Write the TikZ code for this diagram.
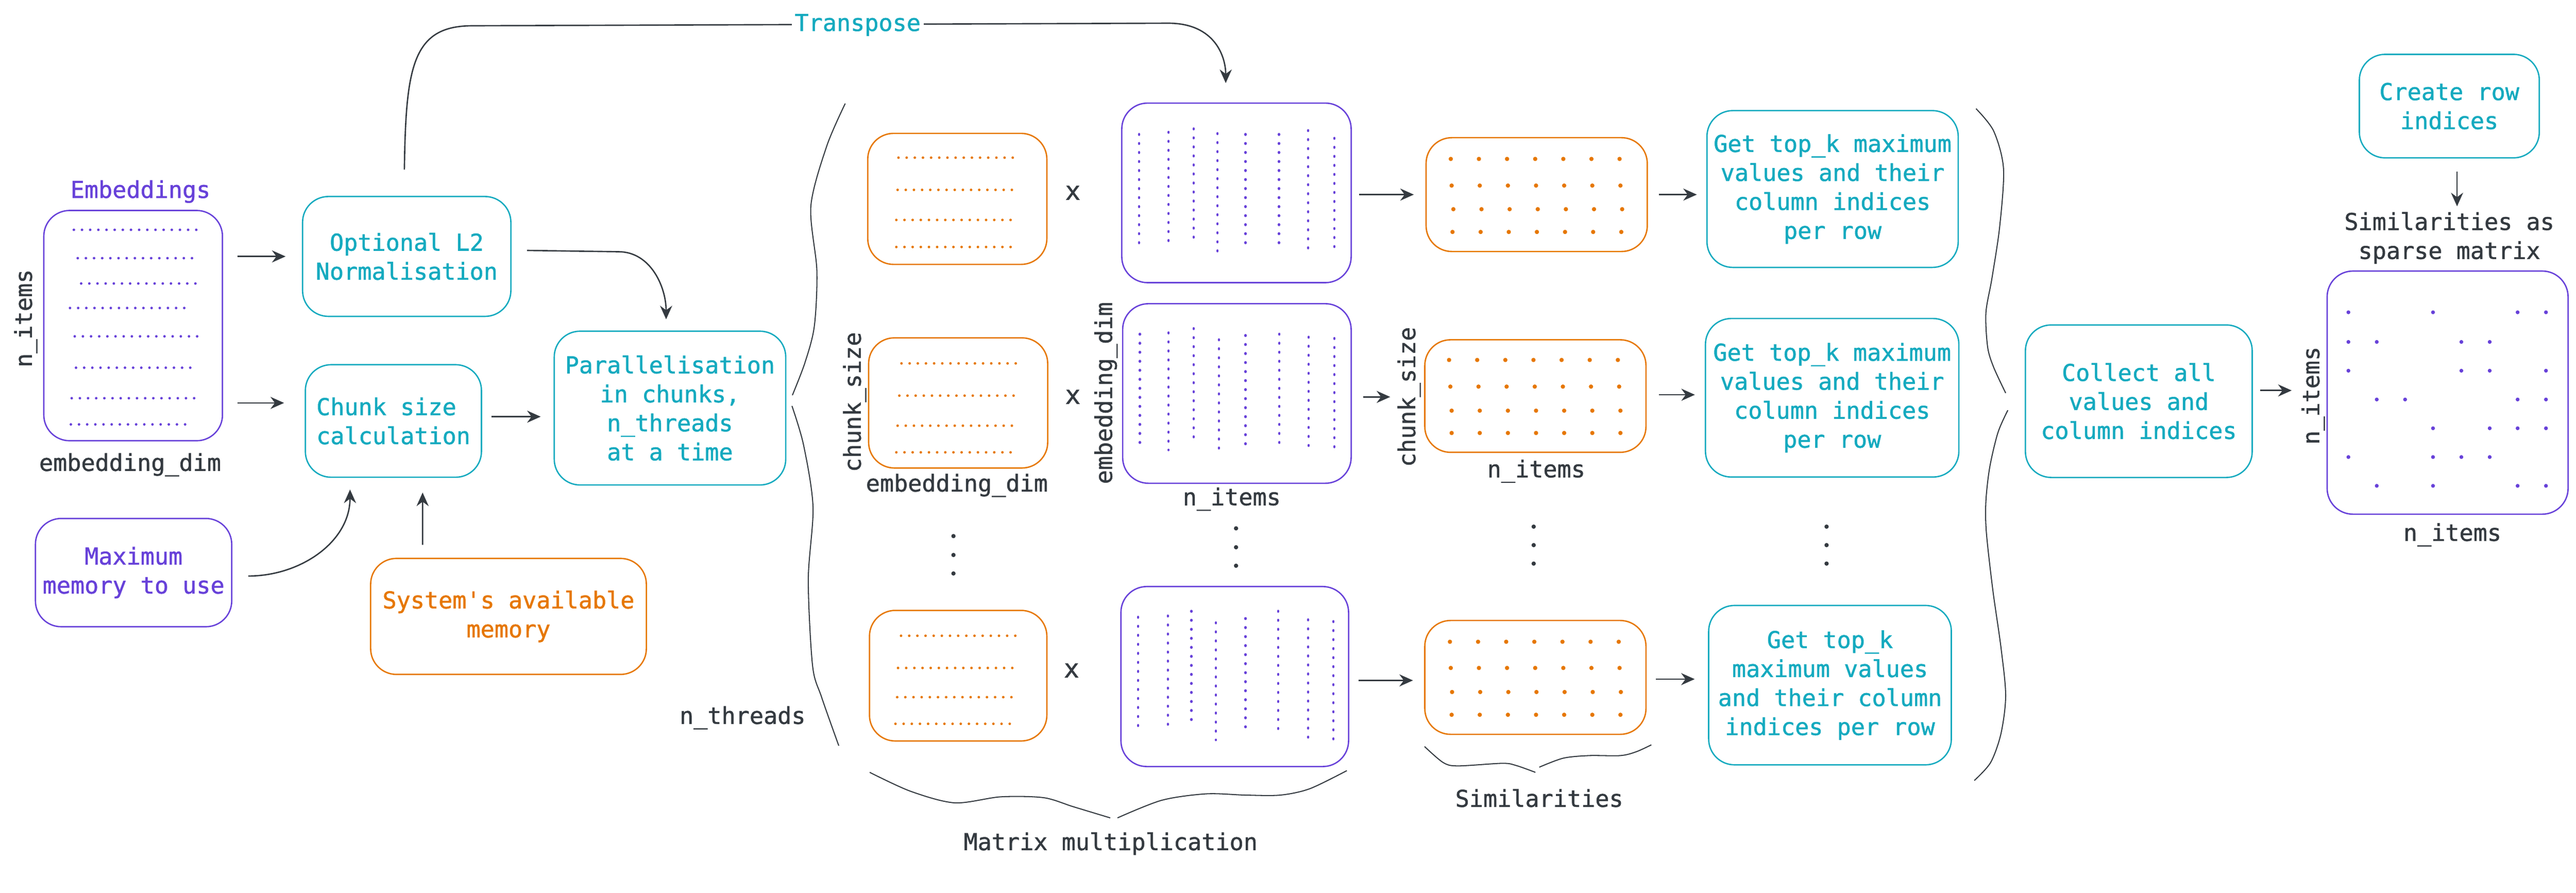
\documentclass[tikz,border=0pt]{standalone}
\usepackage{fontspec}
\setmonofont{DejaVu Sans Mono}[FakeBold=1.2]
\usetikzlibrary{arrows.meta}
\definecolor{ink}{HTML}{343A40}
\definecolor{vio}{HTML}{6741D9}
\definecolor{cyn}{HTML}{15AABF}
\definecolor{org}{HTML}{E67700}
\begin{document}
\begin{tikzpicture}[>={Stealth[length=9pt,width=8pt]}, line width=0.9pt, color=ink,
	every node/.style={font=\ttfamily\fontsize{15.4}{19.2}\selectfont, text=ink},
	box/.style={draw, rounded corners=0.6cm, inner sep=2pt, align=center},
	vbox/.style={box, draw=vio, text=vio}, cbox/.style={box, draw=cyn, text=cyn}, obox/.style={box, draw=org, text=org},
	lbl/.style={inner sep=0pt, align=center}, times/.style={inner sep=0pt, font=\ttfamily\fontsize{17}{18}\selectfont},
	hdots/.style={line width=0.06cm, line cap=round, dash pattern=on 0pt off 0.19cm},
	vdots/.style={vio, line width=0.05cm, line cap=round, dash pattern=on 0.02cm off 0.19cm},
	gdots/.style={org, line width=0.1cm, line cap=round, dash pattern=on 0pt off 0.655cm},
	conn/.style={->}, brc/.style={line width=0.7pt}]
	\useasboundingbox (0,0) rectangle (59.98,-20.78);

	\node[vbox, minimum width=4.16cm, minimum height=5.36cm] (emb) at (3.10,-7.58) {};
	\node[lbl, text=vio] (lemb) at (3.27,-4.46) {Embeddings}; \node[lbl, rotate=90] (lni0) at (0.60,-7.41) {n\_items}; \node[lbl] (led0) at (3.03,-10.82) {embedding\_dim};
	\draw[hdots, vio] (1.72,-5.35) -- (4.62,-5.35); \draw[hdots, vio] (1.81,-6.01) -- (4.52,-6.01); \draw[hdots, vio] (1.89,-6.60) -- (4.59,-6.60); \draw[hdots, vio] (1.63,-7.17) -- (4.34,-7.17);
	\draw[hdots, vio] (1.74,-7.83) -- (4.62,-7.83); \draw[hdots, vio] (1.77,-8.56) -- (4.48,-8.56); \draw[hdots, vio] (1.67,-9.27) -- (4.54,-9.27); \draw[hdots, vio] (1.65,-9.88) -- (4.36,-9.88);

	\node[cbox, minimum width=4.85cm, minimum height=2.79cm] (l2) at (9.47,-5.97) {Optional L2\\Normalisation};
	\node[cbox, minimum width=4.10cm, minimum height=2.62cm, align=left] (chunk) at (9.16,-9.80) {Chunk size\\calculation};
	\node[cbox, minimum width=5.39cm, minimum height=3.58cm] (par) at (15.60,-9.50) {Parallelisation\\in chunks,\\n\_threads\\at a time};
	\node[vbox, minimum width=4.57cm, minimum height=2.52cm] (maxmem) at (3.11,-13.33) {Maximum\\memory to use};
	\node[obox, minimum width=6.42cm, minimum height=2.70cm] (sys) at (11.84,-14.35) {System's available\\memory};

	\draw[conn, shorten <=0.33cm, shorten >=0.38cm] (emb.east |- l2.west) -- (l2.west);
	\draw[conn, shorten <=0.33cm, shorten >=0.48cm] (emb.east |- 0,-9.38) -- (chunk.west |- 0,-9.38);
	\draw[conn, shorten <=0.22cm, shorten >=0.30cm] (chunk.east |- 0,-9.70) -- (par.west |- 0,-9.70);
	\draw[conn] ([xshift=0.36cm,yshift=0.14cm]l2.east) -- (14.4,-5.86) to[out=0,in=90] ([xshift=-0.09cm,yshift=0.26cm]par.north);
	\draw[conn] ([xshift=0.37cm,yshift=-0.08cm]maxmem.east) to[out=0,in=-90] ([xshift=-1.01cm,yshift=-0.27cm]chunk.south);
	\draw[conn] ([xshift=-2.00cm,yshift=0.30cm]sys.north) -- ([xshift=0.68cm,yshift=-0.34cm]chunk.south);

	\node[obox, minimum width=4.17cm, minimum height=3.05cm] (om1) at (22.29,-4.63) {}; \node[obox, minimum width=4.17cm, minimum height=3.03cm] (om2) at (22.31,-9.38) {}; \node[obox, minimum width=4.13cm, minimum height=3.04cm] (om3) at (22.31,-15.73) {};
	\draw[hdots, org] (20.92,-3.67) -- (23.66,-3.67); \draw[hdots, org] (20.90,-4.42) -- (23.64,-4.42); \draw[hdots, org] (20.87,-5.12) -- (23.60,-5.12); \draw[hdots, org] (20.87,-5.75) -- (23.60,-5.75);
	\draw[hdots, org] (20.99,-8.46) -- (23.71,-8.46); \draw[hdots, org] (20.94,-9.21) -- (23.66,-9.21); \draw[hdots, org] (20.90,-9.91) -- (23.62,-9.91); \draw[hdots, org] (20.87,-10.53) -- (23.60,-10.53);
	\draw[hdots, org] (20.98,-14.80) -- (23.70,-14.80); \draw[hdots, org] (20.91,-15.55) -- (23.61,-15.55); \draw[hdots, org] (20.89,-16.23) -- (23.61,-16.23); \draw[hdots, org] (20.85,-16.85) -- (23.56,-16.85);
	\node[times] (x1) at (24.98,-4.49) {x}; \node[times] (x2) at (24.98,-9.24) {x}; \node[times] (x3) at (24.95,-15.61) {x};

	\node[vbox, minimum width=5.34cm, minimum height=4.18cm] (pm1) at (28.79,-4.49) {}; \node[vbox, minimum width=5.32cm, minimum height=4.18cm] (pm2) at (28.80,-9.16) {}; \node[vbox, minimum width=5.30cm, minimum height=4.19cm] (pm3) at (28.75,-15.75) {};
	\draw[vdots] (26.52,-3.12) -- (26.52,-5.83); \draw[vdots] (27.21,-3.07) -- (27.21,-5.79); \draw[vdots] (27.79,-2.99) -- (27.79,-5.69); \draw[vdots] (28.35,-3.10) -- (28.35,-5.99);
	\draw[vdots] (29.00,-3.12) -- (29.00,-5.84); \draw[vdots] (29.78,-3.12) -- (29.78,-5.85); \draw[vdots] (30.46,-3.03) -- (30.46,-5.92); \draw[vdots] (31.07,-3.21) -- (31.07,-5.94);
	\draw[vdots] (26.54,-7.77) -- (26.54,-10.48); \draw[vdots] (27.21,-7.74) -- (27.21,-10.48); \draw[vdots] (27.79,-7.64) -- (27.79,-10.35); \draw[vdots] (28.38,-7.90) -- (28.38,-10.62);
	\draw[vdots] (29.00,-7.80) -- (29.00,-10.51); \draw[vdots] (29.79,-7.77) -- (29.79,-10.48); \draw[vdots] (30.47,-7.84) -- (30.47,-10.55); \draw[vdots] (31.07,-7.87) -- (31.07,-10.58);
	\draw[vdots] (26.50,-14.36) -- (26.50,-17.09); \draw[vdots] (27.19,-14.33) -- (27.19,-17.06); \draw[vdots] (27.74,-14.22) -- (27.74,-16.94); \draw[vdots] (28.31,-14.49) -- (28.31,-17.23);
	\draw[vdots] (29.00,-14.39) -- (29.00,-17.12); \draw[vdots] (29.76,-14.22) -- (29.76,-17.11); \draw[vdots] (30.46,-14.42) -- (30.46,-17.17); \draw[vdots] (31.05,-14.46) -- (31.05,-17.21);

	\node[lbl, rotate=90] (lcs1) at (19.90,-9.36) {chunk\_size}; \node[lbl] (led1) at (22.28,-11.30) {embedding\_dim};
	\node[lbl, rotate=90] (led2) at (25.75,-9.15) {embedding\_dim}; \node[lbl] (lni1) at (28.68,-11.62) {n\_items};
	\node[lbl] (lnt) at (17.29,-16.71) {n\_threads};

	\draw[conn, shorten <=0.37cm, shorten >=0.45cm] ([xshift=-0.06cm,yshift=0.24cm]l2.north) .. controls +(0.04,2.77) and +(-1.4,0) .. (11.0,-0.60) -- (27.2,-0.54) .. controls +(1.1,0) and +(0,1.05) .. ([xshift=-0.25cm]pm1.north);
	\node[lbl, text=cyn, fill=white, inner xsep=2pt] (ltr) at (19.97,-0.58) {Transpose};

	\node[obox, minimum width=5.15cm, minimum height=2.65cm] (sm1) at (35.78,-4.53) {}; \node[obox, minimum width=5.15cm, minimum height=2.62cm] (sm2) at (35.75,-9.22) {}; \node[obox, minimum width=5.15cm, minimum height=2.65cm] (sm3) at (35.75,-15.77) {};
	\draw[gdots] (33.78,-3.70) -- (37.72,-3.70); \draw[gdots] (33.80,-4.32) -- (37.74,-4.32); \draw[gdots] (33.84,-4.87) -- (37.78,-4.87); \draw[gdots] (33.82,-5.40) -- (37.76,-5.40);
	\draw[gdots] (33.74,-8.38) -- (37.68,-8.38); \draw[gdots] (33.77,-9.00) -- (37.71,-9.00); \draw[gdots] (33.80,-9.56) -- (37.74,-9.56); \draw[gdots] (33.80,-10.08) -- (37.74,-10.08);
	\draw[gdots] (33.76,-14.94) -- (37.70,-14.94); \draw[gdots] (33.78,-15.55) -- (37.72,-15.55); \draw[gdots] (33.81,-16.11) -- (37.75,-16.11); \draw[gdots] (33.80,-16.64) -- (37.74,-16.64);
	\node[lbl, rotate=90] (lcs2) at (32.81,-9.24) {chunk\_size}; \node[lbl] (lni2) at (35.77,-10.97) {n\_items};

	\draw[conn, shorten <=0.17cm, shorten >=0.27cm] (pm1.east |- sm1.west) -- (sm1.west);
	\draw[conn, shorten <=0.26cm, shorten >=0.79cm] (pm2.east |- 0,-9.24) -- (sm2.west |- 0,-9.24);
	\draw[conn, shorten <=0.22cm, shorten >=0.26cm] (pm3.east |- 0,-15.84) -- (sm3.west |- 0,-15.84);

	\fill (22.20,-12.48) circle (0.05) (22.20,-12.92) circle (0.05) (22.20,-13.35) circle (0.05); \fill (28.78,-12.30) circle (0.05) (28.78,-12.74) circle (0.05) (28.78,-13.17) circle (0.05);
	\fill (35.71,-12.26) circle (0.05) (35.71,-12.69) circle (0.05) (35.71,-13.12) circle (0.05); \fill (42.53,-12.26) circle (0.05) (42.53,-12.69) circle (0.05) (42.53,-13.12) circle (0.05);

	\node[cbox, minimum width=5.85cm, minimum height=3.65cm] (tk1) at (42.67,-4.40) {Get top\_k maximum\\values and their\\column indices\\per row};
	\node[cbox, minimum width=5.90cm, minimum height=3.69cm] (tk2) at (42.66,-9.26) {Get top\_k maximum\\values and their\\column indices\\per row};
	\node[cbox, minimum width=5.65cm, minimum height=3.71cm] (tk3) at (42.61,-15.95) {Get top\_k\\maximum values\\and their column\\indices per row};
	\draw[conn, shorten <=0.25cm, shorten >=0.22cm] (sm1.east |- 0,-4.53) -- (tk1.west |- 0,-4.53);
	\draw[conn, shorten <=0.28cm, shorten >=0.23cm] (sm2.east |- 0,-9.19) -- (tk2.west |- 0,-9.19);
	\draw[conn, shorten <=0.21cm, shorten >=0.31cm] (sm3.east |- 0,-15.81) -- (tk3.west |- 0,-15.81);

	\draw[brc] plot[smooth] coordinates {(19.68,-2.41) (19.25,-3.40) (18.88,-4.80) (19.02,-6.30) (18.96,-7.60) (18.74,-8.45) (18.45,-9.20)};
	\draw[brc] plot[smooth] coordinates {(18.44,-9.45) (18.71,-10.36) (18.93,-11.80) (18.82,-13.50) (18.92,-15.50) (19.13,-16.23) (19.53,-17.36)};
	\draw[brc] plot[smooth] coordinates {(46.01,-2.53) (46.42,-3.05) (46.65,-3.93) (46.56,-5.28) (46.38,-6.48) (46.24,-7.28) (46.28,-8.08) (46.42,-8.55) (46.70,-9.15)};
	\draw[brc] plot[smooth] coordinates {(46.75,-9.55) (46.52,-10.07) (46.33,-10.87) (46.24,-11.66) (46.25,-12.39) (46.40,-13.73) (46.59,-15.07) (46.70,-16.19) (46.59,-17.08) (46.35,-17.75) (45.97,-18.17)};
	\draw[brc] plot[smooth] coordinates {(33.17,-17.38) (33.60,-17.75) (33.94,-17.83) (34.98,-17.77) (35.30,-17.82) (35.75,-17.98)}; \draw[brc] plot[smooth] coordinates {(35.84,-17.86) (36.40,-17.65) (37.00,-17.59) (37.73,-17.59) (38.10,-17.50) (38.45,-17.34)};
	\draw[brc] plot[smooth] coordinates {(20.25,-17.98) (21.20,-18.42) (22.23,-18.69) (23.30,-18.55) (24.30,-18.57) (24.99,-18.78) (25.85,-19.04)}; \draw[brc] plot[smooth] coordinates {(26.02,-19.04) (27.05,-18.63) (28.09,-18.48) (29.00,-18.51) (29.81,-18.51) (30.50,-18.36) (31.36,-17.94)};
	\node[lbl] (lsim) at (35.84,-18.58) {Similarities}; \node[lbl] (lmm) at (25.86,-19.64) {Matrix multiplication};

	\node[cbox, minimum width=5.28cm, minimum height=3.55cm] (coll) at (49.80,-9.34) {Collect all\\values and\\column indices};
	\node[vbox, minimum width=5.61cm, minimum height=5.66cm] (sparse) at (56.99,-9.14) {};
	\node[cbox, minimum width=4.19cm, minimum height=2.41cm] (rowidx) at (57.03,-2.47) {Create row\\indices};
	\node[lbl] (lsp) at (57.03,-5.54) {Similarities as\\sparse matrix};
	\node[lbl, rotate=90] (lni3) at (53.86,-9.21) {n\_items}; \node[lbl] (lni4) at (57.10,-12.45) {n\_items};
	\draw[conn, shorten <=0.17cm, shorten >=0.81cm] (coll.east |- 0,-9.09) -- (sparse.west |- 0,-9.09);
	\draw[conn, shorten <=0.30cm, shorten >=0.12cm] ([xshift=0.18cm]rowidx.south) -- ([xshift=0.18cm]lsp.north);
	\fill[vio] (54.68,-7.27) circle (0.045) (56.65,-7.27) circle (0.045) (58.62,-7.27) circle (0.045) (59.28,-7.27) circle (0.045);
	\fill[vio] (54.68,-7.96) circle (0.045) (55.34,-7.96) circle (0.045) (57.31,-7.96) circle (0.045) (57.97,-7.96) circle (0.045);
	\fill[vio] (54.68,-8.63) circle (0.045) (57.31,-8.63) circle (0.045) (57.97,-8.63) circle (0.045) (59.28,-8.63) circle (0.045);
	\fill[vio] (55.34,-9.30) circle (0.045) (56.00,-9.30) circle (0.045) (58.62,-9.30) circle (0.045) (59.28,-9.30) circle (0.045);
	\fill[vio] (56.65,-9.97) circle (0.045) (57.97,-9.97) circle (0.045) (58.62,-9.97) circle (0.045) (59.28,-9.97) circle (0.045);
	\fill[vio] (54.68,-10.64) circle (0.045) (56.65,-10.64) circle (0.045) (57.31,-10.64) circle (0.045) (57.97,-10.64) circle (0.045);
	\fill[vio] (55.34,-11.31) circle (0.045) (56.65,-11.31) circle (0.045) (58.62,-11.31) circle (0.045) (59.28,-11.31) circle (0.045);
\end{tikzpicture}
\end{document}
